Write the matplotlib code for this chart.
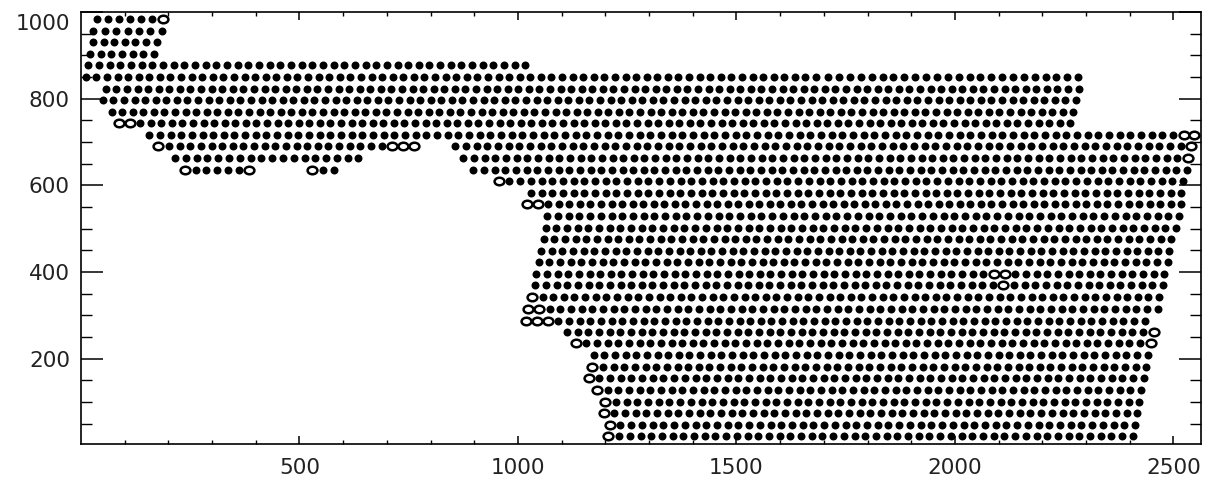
import numpy as np
import matplotlib
matplotlib.use('Agg')
import matplotlib.pyplot as plt
from matplotlib.path import Path
from matplotlib.transforms import ScaledTranslation

# y value of each row of the grid, bottom to top
row_y = [21, 48, 75, 101, 128, 155, 181, 208, 235, 262, 288, 315, 342, 369, 395,
         422, 449, 476, 502, 529, 556, 583, 609, 636, 663, 690, 716, 743, 770, 797,
         823, 850, 877, 904, 930, 957, 984]

# runs of dots: row index, first x, last x, number of dots
seg_row = [0, 1, 2, 3, 4, 5, 6, 7, 8, 9, 10, 11, 12, 13, 14, 15, 16, 17, 18, 19, 20, 21,
           22, 23, 23, 23, 24, 24, 25, 25, 26, 27, 28, 29, 30, 31, 31, 32, 33, 34, 35, 36]
seg_x0 = [1207, 1210, 1196, 1200, 1181, 1162, 1170, 1173, 1132, 1112, 1019, 1024, 1032,
          1040, 1042, 1047, 1053, 1059, 1063, 1067, 1021, 1030, 956, 238, 529, 898, 215,
          875, 177, 857, 156, 87, 70, 50, 57, 11, 1710, 17, 21, 28, 28, 36]
seg_x1 = [2407, 2412, 2417, 2422, 2426, 2432, 2438, 2441, 2448, 2455, 2434, 2464, 2467,
          2476, 2479, 2487, 2490, 2495, 2506, 2513, 2518, 2518, 2522, 385, 578, 2531, 635,
          2533, 761, 2541, 2548, 2264, 2271, 2277, 2283, 1682, 2282, 1017, 167, 173, 185, 187]
seg_n = [50, 50, 51, 51, 52, 53, 53, 53, 55, 56, 59, 60, 60, 60, 60, 60, 60, 60, 60, 60,
         63, 62, 65, 7, 3, 68, 18, 69, 25, 70, 99, 91, 92, 93, 93, 70, 24, 42, 7, 7, 7, 7]

# dots drawn as open rings (row index, approx x)
open_row = [36, 27, 27, 26, 26, 25, 25, 25, 25, 25, 24, 23, 23, 23, 22, 20, 20, 14, 14,
            13, 12, 11, 11, 10, 10, 10, 9, 8, 8, 6, 5, 4, 3, 2, 1, 0]
open_x = [187, 87, 111, 2524, 2548, 177, 713, 737, 761, 2541, 2533, 238, 385, 529, 956,
          1021, 1045, 2088, 2112, 2100, 1032, 1024, 1048, 1019, 1043, 1067, 2455, 1132,
          2448, 1170, 1162, 1181, 1200, 1196, 1210, 1207]

x_ticks = [500, 1000, 1500, 2000, 2500]
y_ticks = [200, 400, 600, 800, 1000]

xs, ys = [], []
for r, a, b, n in zip(seg_row, seg_x0, seg_x1, seg_n):
    xs.append(np.linspace(a, b, n))
    ys.append(np.full(n, row_y[r]))
xs = np.concatenate(xs)
ys = np.concatenate(ys)

# snap ring positions onto the nearest dot of that row
ox, oy = [], []
for r, x in zip(open_row, open_x):
    in_row = xs[ys == row_y[r]]
    ox.append(in_row[np.argmin(np.abs(in_row - x))])
    oy.append(row_y[r])

circ = Path.unit_circle()
ring = Path(circ.vertices * [1.3, 1.0], circ.codes)

fig = plt.figure(figsize=(12.1, 4.84), dpi=100)
ax = fig.add_axes([81 / 1210, 40 / 484, 1120 / 1210, 432 / 484])

ax.scatter(xs, ys, s=33, c='black', linewidths=0, zorder=2)
ax.scatter(ox, oy, s=50, marker=ring, facecolors='white', edgecolors='black',
           linewidths=1.8, zorder=3)

ax.set_xlim(0, 2563)
ax.set_ylim(3, 1000)
ax.set_xticks(x_ticks)
ax.set_yticks(y_ticks)
ax.set_xticks(np.arange(100, 2600, 100), minor=True)
ax.set_yticks(np.arange(50, 1000, 50), minor=True)

for s in ax.spines.values():
    s.set_linewidth(1.2)

ax.tick_params(axis='x', which='major', direction='in', length=6, width=1.1,
               top=True, pad=10, labelsize=15.5)
ax.tick_params(axis='x', which='minor', direction='in', length=3, width=1.0, top=True)
ax.tick_params(axis='y', which='major', direction='in', length=16, width=1.1,
               right=True, pad=8, labelsize=15.5)
ax.tick_params(axis='y', which='minor', direction='in', length=8, width=1.0, right=True)

for lab in ax.get_xticklabels() + ax.get_yticklabels():
    lab.set_color('#222222')

# the top label sits a little below its tick
top = ax.get_yticklabels()[-1]
top.set_transform(top.get_transform() + ScaledTranslation(0, -7 / 72, fig.dpi_scale_trans))

fig.savefig('out.png', dpi=100)
